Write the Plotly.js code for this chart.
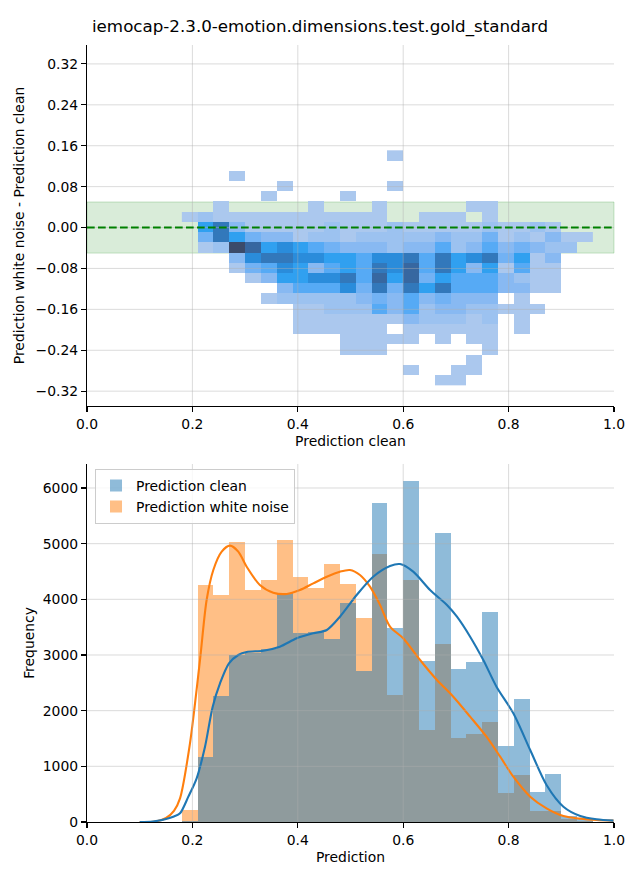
<!DOCTYPE html>
<html>
<head>
<meta charset="utf-8">
<script src="https://cdn.plot.ly/plotly-3.0.1.min.js"></script>
<style>
  html, body { margin: 0; padding: 0; background: #ffffff; }
  #chart { width: 640px; height: 880px; }
</style>
</head>
<body>
<div id="chart"></div>
<script>
// ---------- data ----------
const chartTitle = "iemocap-2.3.0-emotion.dimensions.test.gold_standard";

// bin centres (prediction clean) shared by the 2D histogram and the 1D histograms
const binCenters = [0.195,0.225,0.255,0.285,0.315,0.345,0.375,0.405,0.435,0.465,0.495,0.525,0.555,
                    0.585,0.615,0.645,0.675,0.705,0.735,0.765,0.795,0.825,0.855,0.885,0.915,0.945];
// bin centres of the difference (noise - clean)
const diffCenters = [0.141,0.121,0.101,0.081,0.061,0.041,0.021,0.001,-0.019,-0.039,-0.059,-0.079,
                     -0.099,-0.119,-0.139,-0.159,-0.179,-0.199,-0.219,-0.239,-0.259,-0.279,-0.299];
// shade of every 2D cell (0 = empty, 1 = lightest ... 10 = darkest), one row per difference bin
const cellShade = [
  [0,0,0,0,0,0,0,0,0,0,0,0,0,1,0,0,0,0,0,0,0,0,0,0,0,0],
  [0,0,0,0,0,0,0,0,0,0,0,0,0,0,0,0,0,0,0,0,0,0,0,0,0,0],
  [0,0,0,1,0,0,0,0,0,0,0,0,0,0,0,0,0,0,0,0,0,0,0,0,0,0],
  [0,0,0,0,0,0,1,0,0,0,0,0,0,1,0,0,0,0,0,0,0,0,0,0,0,0],
  [0,0,0,0,0,1,0,0,0,0,1,0,0,0,0,0,0,0,0,0,0,0,0,0,0,0],
  [0,0,1,0,0,0,0,0,1,0,0,0,1,0,0,0,0,0,1,1,0,0,0,0,0,0],
  [1,2,1,1,1,1,1,1,1,1,1,1,1,0,0,1,1,1,0,1,0,0,0,0,0,0],
  [0,6,8,3,1,1,1,1,1,2,1,1,1,2,1,1,1,1,1,2,1,1,2,1,0,0],
  [0,4,8,6,4,3,3,1,2,2,1,2,2,2,2,2,3,2,2,4,1,2,1,3,1,1],
  [0,1,2,10,9,6,7,6,5,4,3,3,3,2,3,3,5,2,3,5,3,4,3,2,2,0],
  [0,0,0,3,7,8,8,7,7,6,6,5,7,7,8,5,8,6,7,8,4,6,1,3,0,0],
  [0,0,0,1,4,5,7,6,3,5,6,5,8,7,9,5,8,6,3,6,1,5,1,1,0,0],
  [0,0,0,0,1,3,6,6,7,7,8,5,9,6,9,4,6,5,5,5,3,2,1,1,0,0],
  [0,0,0,0,0,0,3,5,5,5,7,4,8,4,8,6,8,5,5,5,3,3,1,1,0,0],
  [0,0,0,0,0,1,2,2,2,2,2,3,4,3,5,3,4,3,3,3,0,1,0,0,0,0],
  [0,0,0,0,0,0,0,1,1,2,2,2,5,3,5,2,3,3,2,2,1,1,1,0,0,0],
  [0,0,0,0,0,0,0,1,1,1,1,1,1,1,3,2,2,2,1,2,0,1,0,0,0,0],
  [0,0,0,0,0,0,0,1,1,1,1,1,1,0,1,1,1,1,1,1,0,1,0,0,0,0],
  [0,0,0,0,0,0,0,0,0,0,1,1,1,1,1,0,1,0,1,1,0,0,0,0,0,0],
  [0,0,0,0,0,0,0,0,0,0,1,1,1,0,0,0,0,0,0,1,0,0,0,0,0,0],
  [0,0,0,0,0,0,0,0,0,0,0,0,0,0,0,0,0,0,1,0,0,0,0,0,0,0],
  [0,0,0,0,0,0,0,0,0,0,0,0,0,0,1,0,0,1,1,0,0,0,0,0,0,0],
  [0,0,0,0,0,0,0,0,0,0,0,0,0,0,0,0,1,1,0,0,0,0,0,0,0,0]
];

// histogram counts per bin
const countClean = [10,1174,2269,3000,3030,3102,4108,3390,3420,3287,3940,2712,5736,
                    3479,6125,2892,5191,2748,2874,3772,1365,2209,539,862,108,48];
const countNoise = [215,4257,4077,5030,4167,4347,5066,4401,4209,4634,4275,3664,4808,
                    2281,4347,1653,3197,1515,1581,1796,527,844,204,204,60,24];

// KDE curves (scaled to counts)
const kdeCleanX = [0.10,0.125,0.15,0.165,0.1765,0.1923,0.2081,0.2239,0.2385,0.2524,0.2694,0.2871,0.303,
                   0.3346,0.366,0.398,0.4294,0.455,0.480,0.5117,0.543,0.575,0.594,0.619,0.651,0.683,
                   0.702,0.727,0.752,0.777,0.809,0.841,0.872,0.904,0.936,0.967,0.999];
const kdeCleanY = [0,10,54,100,156,455,785,1353,2071,2491,2850,3000,3054,
                   3077,3149,3300,3390,3449,3688,4078,4406,4598,4634,4497,4167,3898,
                   3688,3329,2910,2431,1953,1293,665,275,108,48,24];
const kdeNoiseX = [0.10,0.13,0.15,0.165,0.1765,0.1954,0.2144,0.227,0.2397,0.2556,0.2713,0.287,0.303,
                   0.328,0.3535,0.379,0.404,0.4294,0.455,0.480,0.499,0.518,0.537,0.556,0.575,0.600,
                   0.632,0.664,0.695,0.727,0.758,0.784,0.809,0.841,0.872,0.904,0.936,0.967,0.999];
const kdeNoiseY = [0,10,72,200,425,1413,2910,3988,4527,4856,4964,4856,4586,
                   4257,4119,4096,4167,4287,4406,4497,4527,4437,4227,3900,3509,3300,
                   2910,2551,2251,1892,1532,1173,814,455,246,108,60,36,24];

// ticks
const xTickVals = [0,0.2,0.4,0.6,0.8,1.0];
const xTickText = ["0.0","0.2","0.4","0.6","0.8","1.0"];
const diffTickVals = [0.32,0.24,0.16,0.08,0,-0.08,-0.16,-0.24,-0.32];
const diffTickText = ["0.32","0.24","0.16","0.08","0.00","\u22120.08","\u22120.16","\u22120.24","\u22120.32"];
const freqTickVals = [0,1000,2000,3000,4000,5000,6000];
const freqTickText = ["0","1000","2000","3000","4000","5000","6000"];

// ---------- styling ----------
const FONT = "DejaVu Sans, Liberation Sans, sans-serif";
const TICK_FONT = {family: FONT, size: 13.9, color: "#000"};
const LABEL_FONT = {family: FONT, size: 13.9, color: "#000"};
const GRID = "rgba(176,176,176,0.45)";
const BLUE = "#1f77b4", ORANGE = "#ff7f0e";
const BLUE_FILL = "rgba(31,119,180,0.5)", ORANGE_FILL = "rgba(255,127,14,0.5)";

const zCells = cellShade.map(r => r.map(v => v === 0 ? null : v));

const shadeScale = [
  [0/9, "#abc8ee"], [1/9, "#9cc2f0"], [2/9, "#88b9f2"], [3/9, "#72b2f4"],
  [4/9, "#56aaf5"], [5/9, "#30a0f0"], [6/9, "#2a8cdb"], [7/9, "#3278bb"],
  [8/9, "#3767a0"], [9/9, "#3b4b6a"]
];

const data = [
  {
    type: "heatmap", x: binCenters, y: diffCenters, z: zCells,
    colorscale: shadeScale, zmin: 1, zmax: 10, showscale: false,
    hoverinfo: "skip", xaxis: "x", yaxis: "y", zsmooth: false, showlegend: false
  },
  {
    type: "bar", x: binCenters, y: countNoise, width: 0.03,
    name: "Prediction white noise", legendrank: 2,
    marker: {color: ORANGE_FILL, line: {width: 0}},
    xaxis: "x2", yaxis: "y2", hoverinfo: "skip"
  },
  {
    type: "bar", x: binCenters, y: countClean, width: 0.03,
    name: "Prediction clean", legendrank: 1,
    marker: {color: BLUE_FILL, line: {width: 0}},
    xaxis: "x2", yaxis: "y2", hoverinfo: "skip"
  },
  {
    type: "scatter", mode: "lines", x: kdeNoiseX, y: kdeNoiseY,
    line: {color: ORANGE, width: 2.1, shape: "spline", smoothing: 0.8},
    showlegend: false, xaxis: "x2", yaxis: "y2", hoverinfo: "skip"
  },
  {
    type: "scatter", mode: "lines", x: kdeCleanX, y: kdeCleanY,
    line: {color: BLUE, width: 2.1, shape: "spline", smoothing: 0.8},
    showlegend: false, xaxis: "x2", yaxis: "y2", hoverinfo: "skip"
  }
];

const shapes = [];
// tolerance band and zero line (top panel)
shapes.push({type: "rect", xref: "x domain", yref: "y", x0: 0, x1: 1, y0: -0.05, y1: 0.05,
             fillcolor: "rgba(0,128,0,0.15)", line: {color: "rgba(0,128,0,0.2)", width: 1}, layer: "below"});
// grid lines drawn above the marks (as in the reference)
[0.2,0.4,0.6,0.8].forEach(v => {
  shapes.push({type: "line", xref: "x", yref: "y domain", x0: v, x1: v, y0: 0, y1: 1,
               line: {color: GRID, width: 1}, layer: "above"});
  shapes.push({type: "line", xref: "x2", yref: "y2 domain", x0: v, x1: v, y0: 0, y1: 1,
               line: {color: GRID, width: 1}, layer: "above"});
});
diffTickVals.forEach(v => {
  shapes.push({type: "line", xref: "x domain", yref: "y", x0: 0, x1: 1, y0: v, y1: v,
               line: {color: GRID, width: 1}, layer: "above"});
});
freqTickVals.slice(1).forEach(v => {
  shapes.push({type: "line", xref: "x2 domain", yref: "y2", x0: 0, x1: 1, y0: v, y1: v,
               line: {color: GRID, width: 1}, layer: "above"});
});
shapes.push({type: "line", xref: "x domain", yref: "y", x0: 0, x1: 1, y0: 0, y1: 0,
             line: {color: "#008000", width: 2.1, dash: "7.7px,3.3px"}, layer: "above"});

const axisCommon = {
  showline: true, linecolor: "#000", linewidth: 1.1, mirror: false,
  ticks: "outside", ticklen: 5, tickwidth: 1.1, tickcolor: "#000",
  showgrid: false, zeroline: false, tickfont: TICK_FONT, automargin: false
};

const layout = {
  width: 640, height: 880,
  margin: {l: 87, r: 26, t: 45, b: 58},
  paper_bgcolor: "#fff", plot_bgcolor: "rgba(0,0,0,0)",
  font: {family: FONT, color: "#000"},
  title: {text: chartTitle, font: {family: FONT, size: 16.7, color: "#000"},
          x: 0.5, xanchor: "center", y: 1 - 26/880, yanchor: "middle"},
  barmode: "overlay", bargap: 0,
  showlegend: true,
  legend: {x: 0.0152, y: 0.4545, xanchor: "left", yanchor: "top",
           bgcolor: "rgba(255,255,255,0.8)", bordercolor: "#cccccc", borderwidth: 1,
           font: {family: FONT, size: 13.9, color: "#000"}, itemwidth: 30, traceorder: "normal",
           tracegroupgap: 0},
  xaxis: Object.assign({}, axisCommon, {
    domain: [0, 1], anchor: "y", range: [0, 1],
    tickvals: xTickVals, ticktext: xTickText,
    title: {text: "Prediction clean", font: LABEL_FONT, standoff: 5}
  }),
  yaxis: Object.assign({}, axisCommon, {
    domain: [0.53539, 1], anchor: "x", range: [-0.349, 0.357],
    tickvals: diffTickVals, ticktext: diffTickText,
    title: {text: "Prediction white noise - Prediction clean", font: LABEL_FONT, standoff: 7}
  }),
  xaxis2: Object.assign({}, axisCommon, {
    domain: [0, 1], anchor: "y2", range: [0, 1],
    tickvals: xTickVals, ticktext: xTickText,
    title: {text: "Prediction", font: LABEL_FONT, standoff: 5}
  }),
  yaxis2: Object.assign({}, axisCommon, {
    domain: [0, 0.46075], anchor: "x2", range: [0, 6431],
    tickvals: freqTickVals, ticktext: freqTickText,
    title: {text: "Frequency", font: LABEL_FONT, standoff: 4}
  }),
  shapes: shapes
};

Plotly.newPlot("chart", data, layout, {displayModeBar: false, staticPlot: true});
</script>
</body>
</html>
